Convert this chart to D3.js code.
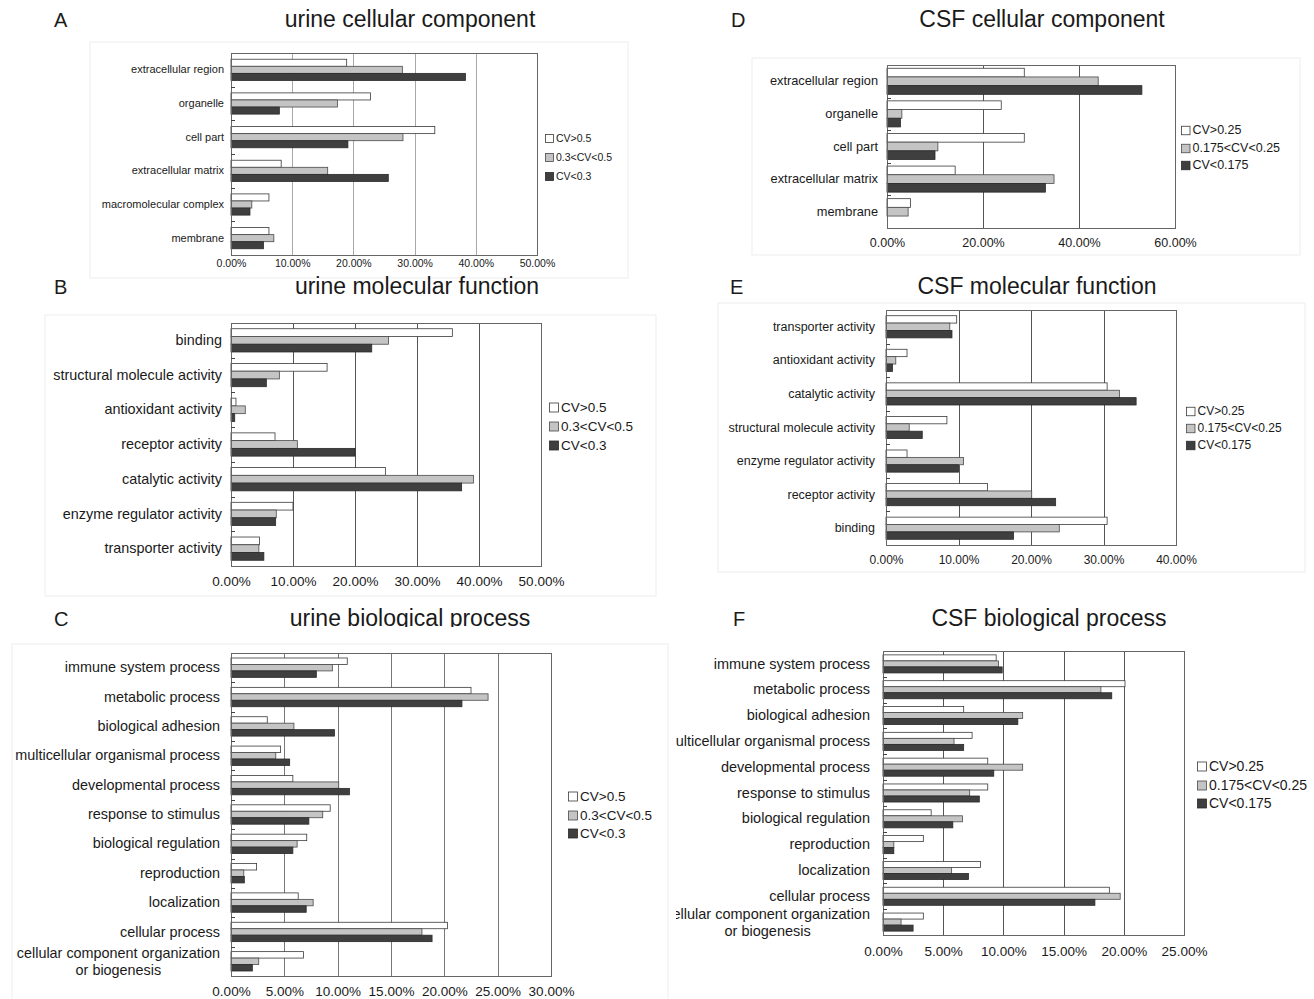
<!DOCTYPE html>
<html><head><meta charset="utf-8">
<script src="https://cdn.jsdelivr.net/npm/d3@7/dist/d3.min.js"></script>
<style>
body{margin:0;background:#fff}
svg{display:block}
text{font-family:Arial,"Liberation Sans",sans-serif;fill:#1a1a1a}
</style>
</head><body>
<svg id="chart" width="1314" height="999"></svg>
<script>
// ---------- DATA ----------
const urineLegend = ["CV>0.5", "0.3<CV<0.5", "CV<0.3"];
const csfLegend = ["CV>0.25", "0.175<CV<0.25", "CV<0.175"];

// A: urine cellular component
const urineCCCategories = ["extracellular region", "organelle", "cell part", "extracellular matrix", "macromolecular complex", "membrane"];
const urineCCHigh = [18.9, 22.8, 33.3, 8.2, 6.2, 6.2];
const urineCCMid  = [28.0, 17.4, 28.1, 15.8, 3.4, 7.0];
const urineCCLow  = [38.3, 7.9, 19.1, 25.7, 3.1, 5.3];
const urineCCTicks = [0, 10, 20, 30, 40, 50];

// B: urine molecular function
const urineMFCategories = ["binding", "structural molecule activity", "antioxidant activity", "receptor activity", "catalytic activity", "enzyme regulator activity", "transporter activity"];
const urineMFHigh = [35.7, 15.5, 0.8, 7.1, 24.9, 10.0, 4.6];
const urineMFMid  = [25.4, 7.8, 2.3, 10.7, 39.1, 7.3, 4.5];
const urineMFLow  = [22.7, 5.7, 0.6, 20.0, 37.2, 7.2, 5.3];
const urineMFTicks = [0, 10, 20, 30, 40, 50];

// C: urine biological process
const urineBPCategories = ["immune system process", "metabolic process", "biological adhesion", "multicellular organismal process", "developmental process", "response to stimulus", "biological regulation", "reproduction", "localization", "cellular process", "cellular component organization\nor biogenesis"];
const urineBPHigh = [10.9, 22.5, 3.4, 4.65, 5.8, 9.3, 7.1, 2.4, 6.3, 20.3, 6.8];
const urineBPMid  = [9.5, 24.1, 5.9, 4.2, 10.1, 8.6, 6.2, 1.2, 7.7, 17.9, 2.6];
const urineBPLow  = [8.0, 21.65, 9.7, 5.5, 11.1, 7.3, 5.8, 1.25, 7.05, 18.85, 2.0];
const urineBPTicks = [0, 5, 10, 15, 20, 25, 30];

// D: CSF cellular component
const csfCCCategories = ["extracellular region", "organelle", "cell part", "extracellular matrix", "membrane"];
const csfCCHigh = [28.6, 23.8, 28.6, 14.2, 4.9];
const csfCCMid  = [44.0, 3.1, 10.6, 34.8, 4.4];
const csfCCLow  = [53.1, 2.8, 10.0, 33.0, 0];
const csfCCTicks = [0, 20, 40, 60];

// E: CSF molecular function
const csfMFCategories = ["transporter activity", "antioxidant activity", "catalytic activity", "structural molecule activity", "enzyme regulator activity", "receptor activity", "binding"];
const csfMFHigh = [9.75, 2.9, 30.5, 8.4, 2.9, 14.0, 30.5];
const csfMFMid  = [8.8, 1.35, 32.2, 3.2, 10.7, 20.1, 23.9];
const csfMFLow  = [9.1, 0.9, 34.5, 5.0, 10.0, 23.4, 17.6];
const csfMFTicks = [0, 10, 20, 30, 40];

// F: CSF biological process
const csfBPCategories = ["immune system process", "metabolic process", "biological adhesion", "multicellular organismal process", "developmental process", "response to stimulus", "biological regulation", "reproduction", "localization", "cellular process", "cellular component organization\nor biogenesis"];
const csfBPHigh = [9.4, 20.1, 6.7, 7.4, 8.7, 8.7, 4.0, 3.35, 8.1, 18.8, 3.35];
const csfBPMid  = [9.6, 18.1, 11.6, 5.9, 11.6, 7.2, 6.6, 0.9, 5.7, 19.7, 1.5];
const csfBPLow  = [9.9, 19.0, 11.2, 6.7, 9.2, 8.0, 5.8, 0.9, 7.1, 17.6, 2.5];
const csfBPTicks = [0, 5, 10, 15, 20, 25];

// ---------- STYLE ----------
const fills = ["#ffffff", "#c4c4c4", "#3f3f3f"];
const strokes = ["#3a3a3a", "#4a4a4a", "#2a2a2a"];

const svg = d3.select("#chart");
const defs = svg.append("defs");
defs.append("clipPath").attr("id", "clipC").append("rect").attr("x", 0).attr("y", 590).attr("width", 700).attr("height", 37);
defs.append("clipPath").attr("id", "clipF").append("rect").attr("x", 676).attr("y", 640).attr("width", 638).attr("height", 359);

const panels = [
  {letter: "A", title: "urine cellular component", cats: urineCCCategories, series: [urineCCHigh, urineCCMid, urineCCLow], ticks: urineCCTicks, legend: urineLegend,
   letterX: 54, titleX: 410, titleY: 27, x0: 231, x1: 537, y0: 53, y1: 255, labelFont: 11, labelPad: 7, tickFont: 10.5, tickPad: 5,
   legX: 545, legY: [138, 157, 176], legSq: 8, legFont: 10.5, frac: 0.63, grid: "#a8a8a8", frame: [90, 42, 628, 278]},
  {letter: "B", title: "urine molecular function", cats: urineMFCategories, series: [urineMFHigh, urineMFMid, urineMFLow], ticks: urineMFTicks, legend: urineLegend,
   letterX: 54, titleX: 417, titleY: 294, x0: 231, x1: 541, y0: 323, y1: 566, labelFont: 14.4, labelPad: 9, tickFont: 13.5, tickPad: 10,
   legX: 549, legY: [407, 426, 445], legSq: 9, legFont: 13.5, frac: 0.67, grid: "#555", frame: [45, 315, 656, 596]},
  {letter: "C", title: "urine biological process", cats: urineBPCategories, series: [urineBPHigh, urineBPMid, urineBPLow], ticks: urineBPTicks, legend: urineLegend,
   letterX: 54, titleX: 410, titleY: 626, x0: 231, x1: 551, y0: 653, y1: 976, labelFont: 14.4, labelPad: 11, tickFont: 13.5, tickPad: 10,
   legX: 568, legY: [796, 815, 833], legSq: 9, legFont: 13.5, frac: 0.66, grid: "#777", frame: [12, 644, 668, 1005], clipTitle: "clipC"},
  {letter: "D", title: "CSF cellular component", cats: csfCCCategories, series: [csfCCHigh, csfCCMid, csfCCLow], ticks: csfCCTicks, legend: csfLegend,
   letterX: 731, titleX: 1042, titleY: 27, x0: 887, x1: 1175, y0: 65, y1: 228, labelFont: 12.8, labelPad: 9, tickFont: 12.5, tickPad: 10,
   legX: 1181, legY: [130, 148, 165], legSq: 8.5, legFont: 12.5, frac: 0.8, grid: "#555", frame: [752, 58, 1300, 255]},
  {letter: "E", title: "CSF molecular function", cats: csfMFCategories, series: [csfMFHigh, csfMFMid, csfMFLow], ticks: csfMFTicks, legend: csfLegend,
   letterX: 730, titleX: 1037, titleY: 294, x0: 886, x1: 1176, y0: 310, y1: 545, labelFont: 12.5, labelPad: 11, tickFont: 12, tickPad: 10,
   legX: 1186, legY: [411, 428, 445], legSq: 8.5, legFont: 12, frac: 0.66, grid: "#555", frame: [718, 303, 1305, 572]},
  {letter: "F", title: "CSF biological process", cats: csfBPCategories, series: [csfBPHigh, csfBPMid, csfBPLow], ticks: csfBPTicks, legend: csfLegend,
   letterX: 733, titleX: 1049, titleY: 626, x0: 883, x1: 1184, y0: 651, y1: 935, labelFont: 14.5, labelPad: 13, tickFont: 13.5, tickPad: 11,
   legX: 1197, legY: [766, 785, 803], legSq: 9, legFont: 14, frac: 0.7, grid: "#555", frame: null, clipLabels: "clipF"}
];

function drawPanel(p) {
  const g = svg.append("g");
  if (p.frame) {
    g.append("rect").attr("x", p.frame[0]).attr("y", p.frame[1])
      .attr("width", p.frame[2] - p.frame[0]).attr("height", p.frame[3] - p.frame[1])
      .attr("fill", "none").attr("stroke", "#ededed").attr("stroke-width", 1);
  }
  g.append("text").text(p.letter).attr("x", p.letterX).attr("y", p.titleY).attr("font-size", 20);
  const t = g.append("text").text(p.title).attr("x", p.titleX).attr("y", p.titleY)
    .attr("font-size", 23).attr("text-anchor", "middle");
  if (p.clipTitle) t.attr("clip-path", `url(#${p.clipTitle})`);

  const xMax = p.ticks[p.ticks.length - 1];
  const x = d3.scaleLinear().domain([0, xMax]).range([p.x0, p.x1]);
  const y = d3.scaleBand().domain(p.cats).range([p.y0, p.y1]);

  // gridlines
  g.selectAll(null).data(p.ticks.filter(v => v > 0 && v < xMax)).join("line")
    .attr("x1", d => Math.round(x(d)) + 0.5).attr("x2", d => Math.round(x(d)) + 0.5)
    .attr("y1", p.y0).attr("y2", p.y1).attr("stroke", p.grid).attr("stroke-width", 1);

  // bars
  const bw = y.bandwidth();
  const bh = bw * p.frac / 3;
  const off = (bw - 3 * bh) / 2;
  p.series.forEach((vals, si) => {
    const data = p.cats.map((c, i) => ({c, v: vals[i]})).filter(d => d.v > 0);
    g.selectAll(null).data(data).join("rect")
      .attr("x", x(0)).attr("y", d => y(d.c) + off + si * bh)
      .attr("width", d => x(d.v) - x(0)).attr("height", bh)
      .attr("fill", fills[si]).attr("stroke", strokes[si]).attr("stroke-width", 0.8);
  });

  // plot frame
  g.append("rect").attr("x", p.x0 + 0.5).attr("y", p.y0 + 0.5)
    .attr("width", p.x1 - p.x0).attr("height", p.y1 - p.y0)
    .attr("fill", "none").attr("stroke", "#666").attr("stroke-width", 1);

  // category boundary ticks
  g.selectAll(null).data(p.cats.slice(1)).join("line")
    .attr("x1", p.x0).attr("x2", p.x0 + 4)
    .attr("y1", d => Math.round(y(d)) + 0.5).attr("y2", d => Math.round(y(d)) + 0.5)
    .attr("stroke", "#444").attr("stroke-width", 1);

  // x axis
  const xa = g.append("g").attr("transform", `translate(0,${p.y1})`)
    .call(d3.axisBottom(x).tickValues(p.ticks).tickFormat(d => d.toFixed(2) + "%").tickSize(0).tickPadding(p.tickPad));
  xa.select(".domain").remove();
  xa.selectAll("text").attr("font-size", p.tickFont).attr("font-family", null).style("fill", "#1a1a1a");

  // y axis labels (outer group carries the clip in page coordinates)
  const yHolder = g.append("g");
  if (p.clipLabels) yHolder.attr("clip-path", `url(#${p.clipLabels})`);
  const ya = yHolder.append("g").attr("transform", `translate(${p.x0},0)`)
    .call(d3.axisLeft(y).tickSize(0).tickPadding(p.labelPad));
  ya.select(".domain").remove();
  ya.selectAll("text").attr("font-size", p.labelFont).attr("font-family", null).style("fill", "#1a1a1a")
    .each(function(d) {
      const lines = d.split("\n");
      if (lines.length > 1) {
        const el = d3.select(this);
        el.text(null).attr("dy", null);
        const lh = p.labelFont * 1.18;
        const tsp = lines.map((ln, i) => el.append("tspan").text(ln)
          .attr("x", -p.labelPad).attr("y", (i - (lines.length - 1) / 2) * lh).attr("dy", "0.35em"));
        let maxW = 0;
        tsp.forEach(s => { maxW = Math.max(maxW, s.node().getComputedTextLength()); });
        el.attr("text-anchor", "middle");
        tsp.forEach(s => s.attr("x", -p.labelPad - maxW / 2));
      }
    });

  // legend
  const lg = g.append("g");
  p.legend.forEach((name, i) => {
    lg.append("rect").attr("x", p.legX + 0.5).attr("y", p.legY[i] - p.legSq / 2 + 0.5)
      .attr("width", p.legSq).attr("height", p.legSq)
      .attr("fill", fills[i]).attr("stroke", strokes[i]).attr("stroke-width", 0.8);
    lg.append("text").text(name).attr("x", p.legX + p.legSq + 3).attr("y", p.legY[i])
      .attr("dy", "0.35em").attr("font-size", p.legFont);
  });
}

panels.forEach(drawPanel);
</script>
</body></html>
